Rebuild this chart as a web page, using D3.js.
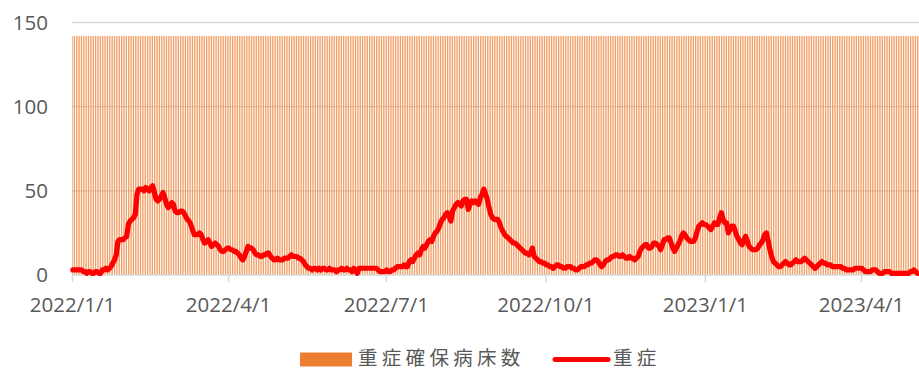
<!DOCTYPE html>
<html>
<head>
<meta charset="utf-8">
<script src="https://cdn.jsdelivr.net/npm/d3@7"></script>
<style>
  html, body { margin: 0; padding: 0; background: #fff; }
  svg { display: block; }
  text { font-family: "Open Sans", "Noto Sans", sans-serif; }
  .legend text { font-family: "Noto Sans CJK JP", "Noto Sans CJK SC", sans-serif; }
</style>
</head>
<body>
<svg id="chart" width="919" height="370"></svg>
<script>
// Daily severe cases (重症), one row per month starting 2022/1/1
const severe2022 = [
  // Jan
  3,3,3,3,3,3,2, 2,1,2,2,1,1,2,2,1,1, 3,3,4,3,4, 5,7,9,12, 20,21,21, 21,22,
  // Feb
  23, 30,32, 33,34,36, 48,51,51, 51,50,52,51,50,52,53, 49,45,44,45, 47,49,46, 42,40,41, 43,42,
  // Mar
  38,37,37, 38,38,37,35,33, 32,30,27,24, 24,24,25, 24,21,19, 20,21,19, 17,18,19,18,17, 15,14,14, 15,16,
  // Apr
  16,15, 15,14,14, 13,12,10,9, 11,14, 17,16,16,15, 13,12, 12,11,11,12, 12,13,13, 11,10,9,9,10,9,
  // May
  9, 9,10,10,10, 11,12,11,11,11,10, 10,9,8, 6,5,4, 4,3,4,4,3,4,3, 4,4,3,3,4,3,3,
  // Jun
  3,2,3,3,4,3,3,4,3, 3,2,4,3,1, 4,4,4,4,4,4,4,4,4,4,4,3, 2,2,2,2,
  // Jul
  3,2,2,3,3, 4,5,5,5,5,6,5,5, 8,9,8, 10,12,13, 12,15,17, 16,18,20,21, 20,23,25, 26,28,
  // Aug
  31, 33,34,36, 37,35,32, 38,40,42, 43,42,41, 44,45,45, 39,42,44,43, 44,43,42, 46,48,51, 48,45,40, 36,34,
  // Sep
  33, 33,33,31,28, 26,24,23,22, 21,20,19,19, 18,17,16, 15,14,13,13, 12,13,16, 11,10,9,8, 8,7,7,
  // Oct
  6,6, 5,5,4, 5,6,6, 5,5,4,4, 5,5,5, 4,4,3,3, 4,5,5,5, 6,6,7,7, 8,9,9,8,
  // Nov
  6,5,6, 8,9,9, 10,11,11,12,12, 11,11,12,11, 10,10,11,10, 10,9,10,11, 14,16, 17,18,18, 16,16,
  // Dec
  17,19,19, 18,17,15, 18,21, 21,22,22, 19,16,14, 16,18,20, 23,25, 24,22,21, 20,20,20, 22,26,29, 30,31,30
];
const severe2023 = [
  // Jan
  30,29,28,27, 29,31, 30,30, 34,37, 33,31,31, 25,27, 29,29, 26,23, 21,19,18, 21,23, 20,17,16, 15,15,15, 16,
  // Feb
  18,19, 21,24,25, 20,15,11,8,7, 6,5,5, 6,7,8, 7,6,6, 7,8,9, 8,8,8, 9,10,9,
  // Mar
  8,7,6, 5,4,5, 6,7,8, 7,7,6,6, 6,5,5,5, 5,5,5,4, 4,3,3,3, 3,3,4,4, 4,4,
  // Apr
  4,3, 2,2,2, 2,3,3,3, 2,1,1,1, 2,2,2,2, 1,1,1,1,1, 1,1,1,1, 1,1,2,2,
  // May
  3,2,1,1
];
const severe = severe2022.concat(severe2023);
const startDate = "2022-01-01";

// Secured beds for severe cases (重症確保病床数), constant over the period
const bedPeriods = [
  { from: "2022-01-01", to: "2023-05-04", beds: 142 }
];

const tickLabels = ["2022/1/1", "2022/4/1", "2022/7/1", "2022/10/1", "2023/1/1", "2023/4/1"];
const yTicks = [0, 50, 100, 150];
const seriesNames = ["重症確保病床数", "重症"];

const parseISO = d3.timeParse("%Y-%m-%d");
const parseLabel = d3.timeParse("%Y/%m/%d");
const fmtLabel = d3.timeFormat("%Y/%-m/%-d");

const start = parseISO(startDate);
const days = severe.map((v, i) => ({ date: d3.timeDay.offset(start, i), value: v }));
const beds = [];
bedPeriods.forEach(p => {
  d3.timeDay.range(parseISO(p.from), d3.timeDay.offset(parseISO(p.to), 1))
    .forEach(d => beds.push({ date: d, value: p.beds }));
});

const svg = d3.select("#chart");
const plotLeft = 72, plotBottom = 275, plotTop = 22.5;
const endDate = d3.timeDay.offset(days[days.length - 1].date, 1);
const nDays = d3.timeDay.count(start, endDate);
const step = 1.734;

const x = d3.scaleTime().domain([start, endDate]).range([plotLeft, plotLeft + nDays * step]);
const y = d3.scaleLinear().domain([0, 150]).range([plotBottom, plotTop]);
const mid = d => x(d) + step / 2;

// horizontal gridlines
svg.append("g")
  .selectAll("line")
  .data(yTicks.filter(t => t > 0))
  .join("line")
  .attr("x1", plotLeft).attr("x2", 919)
  .attr("y1", d => y(d)).attr("y2", d => y(d))
  .attr("stroke", "#d9d9d9").attr("stroke-width", 1.3);

// bed capacity bars (thin daily columns)
const barW = step * 0.42;
svg.append("g")
  .selectAll("rect")
  .data(beds)
  .join("rect")
  .attr("x", d => mid(d.date) - barW / 2)
  .attr("width", barW)
  .attr("y", d => y(d.value))
  .attr("height", d => y(0) - y(d.value))
  .attr("fill", "#ed7d31");

// x axis
const xAxis = d3.axisBottom(x)
  .tickValues(tickLabels.map(parseLabel))
  .tickFormat(fmtLabel)
  .tickSizeInner(7).tickSizeOuter(0).tickPadding(15);
const gx = svg.append("g").attr("transform", `translate(0,${plotBottom})`).call(xAxis);
gx.select(".domain").attr("stroke", "#d9d9d9").attr("stroke-width", 1.5).attr("d", `M${plotLeft},0H919`);
gx.selectAll(".tick line").attr("stroke", "#d9d9d9").attr("stroke-width", 1.5);
gx.selectAll(".tick text").attr("fill", "#595959").attr("font-size", 20.5);

// y axis labels
const yAxis = d3.axisLeft(y).tickValues(yTicks).tickSize(0).tickPadding(24);
const gy = svg.append("g").attr("transform", `translate(${plotLeft},0)`).call(yAxis);
gy.select(".domain").remove();
gy.selectAll(".tick text").attr("fill", "#595959").attr("font-size", 20.5);

// severe cases line
const line = d3.line().x(d => mid(d.date)).y(d => y(d.value)).curve(d3.curveLinear);
svg.append("path")
  .datum(days)
  .attr("d", line)
  .attr("fill", "none")
  .attr("stroke", "#ff0000")
  .attr("stroke-width", 5.2)
  .attr("stroke-linejoin", "round")
  .attr("stroke-linecap", "round");

// legend
const lg = svg.append("g").attr("class", "legend");
lg.append("rect").attr("x", 300).attr("y", 352.5).attr("width", 52).attr("height", 14).attr("fill", "#ed7d31");
lg.append("text").attr("x", 358).attr("y", 365).attr("font-size", 19.5)
  .attr("letter-spacing", 4.3).attr("fill", "#595959").text(seriesNames[0]);
lg.append("line").attr("x1", 555).attr("x2", 608).attr("y1", 359.5).attr("y2", 359.5)
  .attr("stroke", "#ff0000").attr("stroke-width", 5).attr("stroke-linecap", "round");
lg.append("text").attr("x", 613).attr("y", 365).attr("font-size", 19.5)
  .attr("letter-spacing", 4.3).attr("fill", "#595959").text(seriesNames[1]);
</script>
</body>
</html>
